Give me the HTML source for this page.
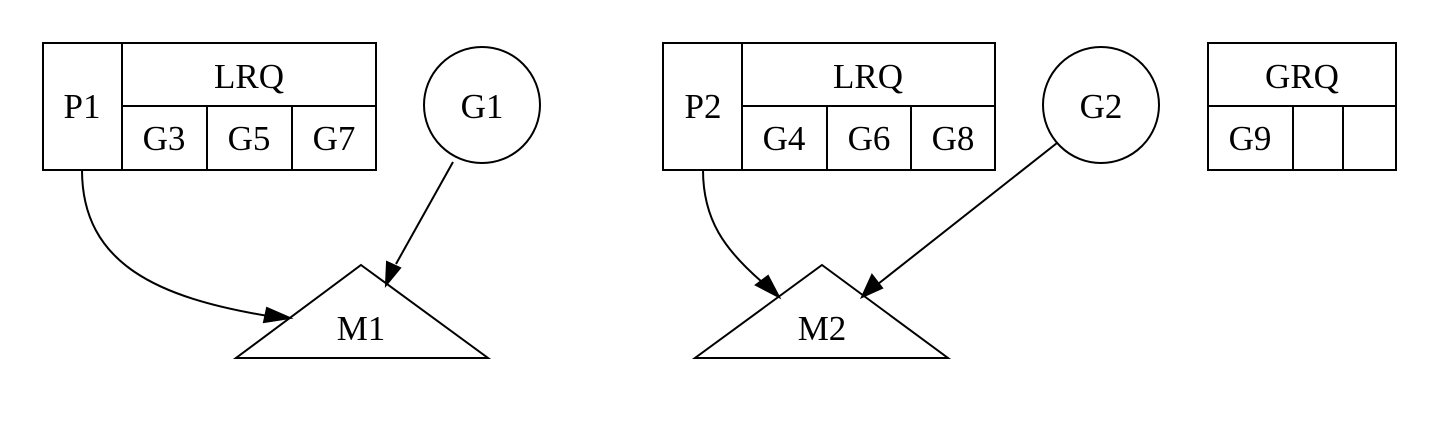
<!DOCTYPE html>
<html><head><meta charset="utf-8"><style>
html,body{margin:0;padding:0;background:#fff;width:1436px;height:446px;overflow:hidden}
svg text{font-family:"Liberation Serif",serif;font-size:35px;fill:#000;text-anchor:middle}
</style></head><body>
<svg width="1436" height="446" viewBox="0 0 1436 446">
<g fill="none" stroke="#000" stroke-width="2">
<g>
<rect x="43" y="43" width="333" height="127"/>
<line x1="122" y1="43" x2="122" y2="170"/>
<line x1="122" y1="106" x2="376" y2="106"/>
<line x1="207" y1="106" x2="207" y2="170"/>
<line x1="292" y1="106" x2="292" y2="170"/>
</g>
<circle cx="482" cy="105" r="58"/>
<polygon points="361,265 488,358 236,358"/>
<path d="M82,170 C82,265 160,298 268,316"/>
<path d="M453,162 L396,264"/>
<g>
<rect x="663" y="43" width="332" height="127"/>
<line x1="742" y1="43" x2="742" y2="170"/>
<line x1="742" y1="106" x2="995" y2="106"/>
<line x1="827" y1="106" x2="827" y2="170"/>
<line x1="911" y1="106" x2="911" y2="170"/>
</g>
<circle cx="1101" cy="105" r="58"/>
<polygon points="822,265 948,358 695,358"/>
<path d="M703,170 C703,220 725,250 762,282"/>
<path d="M1057,143 L878,284"/>
<g>
<rect x="1208" y="43" width="188" height="127"/>
<line x1="1208" y1="106" x2="1396" y2="106"/>
<line x1="1293" y1="106" x2="1293" y2="170"/>
<line x1="1343" y1="106" x2="1343" y2="170"/>
</g>
</g>
<g fill="#000" stroke="#000" stroke-width="2">
<polygon points="290,318 264,322 267,308"/>
<polygon points="386,285 387,262 400,268"/>
<polygon points="779,297 756,285 768,276"/>
<polygon points="862,297 872,275 882,288"/>
</g>
<text x="82" y="118">P1</text>
<text x="249" y="88">LRQ</text>
<text x="164" y="150">G3</text>
<text x="249" y="150">G5</text>
<text x="334" y="150">G7</text>
<text x="482" y="118">G1</text>
<text x="361" y="340">M1</text>
<text x="703" y="118">P2</text>
<text x="868" y="88">LRQ</text>
<text x="784" y="150">G4</text>
<text x="869" y="150">G6</text>
<text x="953" y="150">G8</text>
<text x="1101" y="118">G2</text>
<text x="822" y="340">M2</text>
<text x="1302" y="88">GRQ</text>
<text x="1250" y="150">G9</text>
</svg>
</body></html>
